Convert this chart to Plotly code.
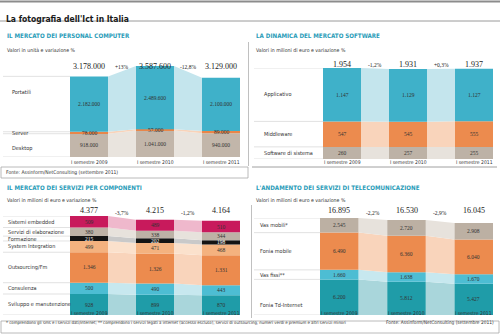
import plotly.graph_objects as go

W, H = 500, 335

years = ["I semestre 2009", "I semestre 2010", "I semestre 2011"]

# --- Personal computer (units) ---
pc_portatili = [2182000, 2489600, 2100000]
pc_server = [78000, 57000, 89000]
pc_desktop = [918000, 1041000, 940000]
pc_totals = [3178000, 3587600, 3129000]
pc_changes = ["+13%", "-12,8%"]

# --- Software (mln euro) ---
sw_applicativo = [1147, 1129, 1127]
sw_middleware = [547, 545, 555]
sw_sistema = [260, 257, 255]
sw_totals = [1954, 1931, 1937]
sw_changes = ["-1,2%", "+0,3%"]

# --- Servizi per componenti (mln euro) ---
sv_embedded = [509, 489, 510]
sv_elaborazione = [380, 338, 344]
sv_formazione = [215, 202, 198]
sv_integration = [499, 471, 468]
sv_outsourcing = [1346, 1326, 1331]
sv_consulenza = [500, 490, 443]
sv_sviluppo = [928, 899, 870]
sv_totals = [4377, 4215, 4164]
sv_changes = ["-3,7%", "-1,2%"]

# --- Telecomunicazioni (mln euro) ---
tl_vas_mobili = [2545, 2720, 2908]
tl_fonia_mobile = [6490, 6360, 6040]
tl_vas_fissi = [1660, 1638, 1670]
tl_fonia_td = [6200, 5812, 5427]
tl_totals = [16895, 16530, 16045]
tl_changes = ["-2,2%", "-2,9%"]

SANS = "Liberation Sans Narrow, DejaVu Sans Condensed, Roboto, sans-serif"
SERIF = "Liberation Serif, DejaVu Serif, serif"
TEAL_T = "#2a9cb8"
TXT = "#333333"

def fmt(v):
    return f"{v:,}".replace(",", ".")

def px(x):
    return x / W

def py(y):
    return 1 - y / H

fig = go.Figure()
annotations = []
shapes = []

BW = 38 / 66  # bar width in category units

panels = [
    dict(ax="", xd=(70, 240), bottom=157, top=66,
         series=[("Desktop", pc_desktop, "#c2b6aa", "#e9e4de", TXT),
                 ("Server", pc_server, "#e8864a", "#f8d3ba", TXT),
                 ("Portatili", pc_portatili, "#3fb1c9", "#c4e5ed", TXT)],
         totals=pc_totals, changes=pc_changes, tot_y=60, chg_y=62, lab_y=162,
         lab_x=10, lab_shift={"Portatili": 12, "Desktop": -3},
         line_x0=3, title="IL MERCATO DEI PERSONAL COMPUTER",
         sub="Valori in unità e variazione %", tx=5, ty=30, sy=45),
    dict(ax="2", xd=(323, 493), bottom=159, top=68,
         series=[("Software di sistema", sw_sistema, "#bdb2a6", "#e7e2dc", TXT),
                 ("Middleware", sw_middleware, "#ec8b4e", "#f9d4bb", TXT),
                 ("Applicativo", sw_applicativo, "#3fb1c9", "#c4e5ed", TXT)],
         totals=sw_totals, changes=sw_changes, tot_y=58, chg_y=60, lab_y=162.5,
         lab_x=262, lab_shift={}, line_x0=254,
         title="LA DINAMICA DEL MERCATO SOFTWARE",
         sub="Valori in milioni di euro e variazione %", tx=254, ty=30, sy=45),
    dict(ax="3", xd=(70, 240), bottom=315, top=216,
         series=[("Sviluppo e manutenzione", sv_sviluppo, "#1f9ca8", "#a9d6db", TXT),
                 ("Consulenza", sv_consulenza, "#4dbdd3", "#c7e8ef", TXT),
                 ("Outsourcing/Fm", sv_outsourcing, "#ec8b4e", "#f9d4bb", TXT),
                 ("System Integration", sv_integration, "#f4b27f", "#fbe1cc", TXT),
                 ("Formazione", sv_formazione, "#141414", "#c9c9c9", "white"),
                 ("Servizi di elaborazione", sv_elaborazione, "#bdb2a6", "#e7e2dc", TXT),
                 ("Sistemi embedded", sv_embedded, "#c81a5c", "#efb8cc", TXT)],
         totals=sv_totals, changes=sv_changes, tot_y=210, chg_y=213, lab_y=317.5,
         lab_x=6, lab_shift={}, line_x0=3,
         title="IL MERCATO DEI SERVIZI PER COMPONENTI",
         sub="Valori in milioni di euro e variazione %", tx=5, ty=187, sy=200),
    dict(ax="4", xd=(320, 493), bottom=315, top=218,
         series=[("Fonia Td-Internet", tl_fonia_td, "#1f9ca8", "#a9d6db", TXT),
                 ("Vas fissi**", tl_vas_fissi, "#4dbdd3", "#c7e8ef", TXT),
                 ("Fonia mobile", tl_fonia_mobile, "#ec8b4e", "#f9d4bb", TXT),
                 ("Vas mobili*", tl_vas_mobili, "#bcb0a3", "#e7e2dc", TXT)],
         totals=tl_totals, changes=tl_changes, tot_y=210, chg_y=213, lab_y=317.5,
         lab_x=258, lab_shift={"Fonia Td-Internet": -8}, line_x0=254,
         title="L'ANDAMENTO DEI SERVIZI DI TELECOMUNICAZIONE",
         sub="Valori in milioni di euro e variazione %", tx=254, ty=187, sy=200),
]

layout_axes = {}
for p in panels:
    ax = p["ax"]
    xa, ya = "x" + ax, "y" + ax
    n = len(p["totals"])
    ymax = max(p["totals"])
    layout_axes["xaxis" + ax] = dict(
        domain=[px(p["xd"][0]), px(p["xd"][1])], range=[-BW / 2, n - 1 + BW / 2],
        anchor=ya, showticklabels=False, showgrid=False,
        zeroline=False, showline=False, ticks="", fixedrange=True)
    layout_axes["yaxis" + ax] = dict(
        domain=[py(p["bottom"]), py(p["top"])], range=[0, ymax], anchor=xa,
        visible=False, fixedrange=True)

    bases = [[0] * n]
    for name, vals, *_ in p["series"]:
        prev = bases[-1]
        bases.append([prev[i] + vals[i] for i in range(n)])

    for k, (name, vals, col, band, tcol) in enumerate(p["series"]):
        lo, hi = bases[k], bases[k + 1]
        for i in range(n - 1):
            xl, xr = i + BW / 2, i + 1 - BW / 2
            fig.add_trace(go.Scatter(
                x=[xl, xl, xr, xr, xl], y=[lo[i], hi[i], hi[i + 1], lo[i + 1], lo[i]],
                fill="toself", fillcolor=band, mode="lines", line=dict(width=0),
                xaxis=xa, yaxis=ya, hoverinfo="skip", showlegend=False))

    for k, (name, vals, col, band, tcol) in enumerate(p["series"]):
        fig.add_trace(go.Bar(
            x=list(range(n)), y=vals, base=bases[k], width=BW, marker_color=col,
            marker_line_width=0, xaxis=xa, yaxis=ya, name=name, showlegend=False))
        for i in range(n):
            annotations.append(dict(
                x=i, y=bases[k][i] + vals[i] / 2, xref=xa, yref=ya, text=fmt(vals[i]),
                showarrow=False, font=dict(family=SERIF, size=5.5, color=tcol)))
        annotations.append(dict(
            x=px(p["lab_x"]), y=bases[k][0] + vals[0] / 2, xref="paper", yref=ya,
            text=name, showarrow=False, xanchor="left",
            yshift=p["lab_shift"].get(name, 0),
            font=dict(family=SANS, size=5.5, color=TXT)))

    for b in bases:
        shapes.append(dict(type="line", xref="paper", yref=ya,
                           x0=px(p["line_x0"]), x1=px(p["xd"][0]), y0=b[0], y1=b[0],
                           line=dict(color="#cfcfcf", width=0.6)))

    for i, t in enumerate(p["totals"]):
        annotations.append(dict(
            x=i, y=py(p["tot_y"]), xref=xa, yref="paper", text=fmt(t),
            showarrow=False, font=dict(family=SERIF, size=8, color="#222")))
    for i, c in enumerate(p["changes"]):
        annotations.append(dict(
            x=i + 0.5, y=py(p["chg_y"]), xref=xa, yref="paper", text=c,
            showarrow=False, font=dict(family=SERIF, size=5.5, color="#222")))
    for i, yl in enumerate(years):
        annotations.append(dict(
            x=i, y=py(p["lab_y"]), xref=xa, yref="paper", text=yl,
            showarrow=False, font=dict(family=SANS, size=5, color=TXT)))

    annotations.append(dict(
        x=px(p["tx"]), y=py(p["ty"]), xref="paper", yref="paper", text="<b>" + p["title"] + "</b>",
        showarrow=False, xanchor="left", font=dict(family=SANS, size=6.2, color=TEAL_T)))
    annotations.append(dict(
        x=px(p["tx"]), y=py(p["sy"]), xref="paper", yref="paper", text=p["sub"],
        showarrow=False, xanchor="left", font=dict(family=SANS, size=5.2, color=TXT)))

annotations.append(dict(
    x=px(4), y=py(12), xref="paper", yref="paper", text="<b>La fotografia dell'Ict in Italia</b>",
    showarrow=False, xanchor="left", font=dict(family=SANS, size=8.5, color="#1a1a1a")))
shapes += [
    dict(type="line", xref="paper", yref="paper", x0=0, x1=1, y0=py(1.5), y1=py(1.5),
         line=dict(color="#8c8c8c", width=2)),
    dict(type="line", xref="paper", yref="paper", x0=0, x1=1, y0=py(21), y1=py(21),
         line=dict(color="#9a9a9a", width=1)),
    dict(type="line", xref="paper", yref="paper", x0=px(248.5), x1=px(248.5), y0=py(42), y1=py(166),
         line=dict(color="#b0b0b0", width=0.8)),
    dict(type="line", xref="paper", yref="paper", x0=px(252), x1=px(497), y0=py(167), y1=py(167),
         line=dict(color="#a0a0a0", width=1)),
    dict(type="line", xref="paper", yref="paper", x0=px(251.5), x1=px(251.5), y0=py(205), y1=py(318),
         line=dict(color="#b0b0b0", width=0.8)),
    dict(type="rect", xref="paper", yref="paper", x0=px(1), x1=px(248), y0=py(178), y1=py(167),
         line=dict(color="#a8a8a8", width=0.8)),
    dict(type="rect", xref="paper", yref="paper", x0=px(1), x1=px(499), y0=py(333), y1=py(321),
         line=dict(color="#a8a8a8", width=0.8)),
]
annotations.append(dict(
    x=px(4), y=py(172.5), xref="paper", yref="paper",
    text="Fonte: Assinform/NetConsulting (settembre 2011)", showarrow=False, xanchor="left",
    font=dict(family=SANS, size=5, color=TXT)))
annotations.append(dict(
    x=px(4), y=py(327), xref="paper", yref="paper",
    text="* comprendono gli sms e i servizi dati/internet; ** comprendono i servizi legati a internet (accesso escluso), servizi di outsourcing, numeri verdi e premium e altri servizi minori",
    showarrow=False, xanchor="left", font=dict(family=SANS, size=4.3, color=TXT)))
annotations.append(dict(
    x=px(496), y=py(327), xref="paper", yref="paper",
    text="Fonte: Assinform/NetConsulting (settembre 2011)", showarrow=False, xanchor="right",
    font=dict(family=SANS, size=4.8, color=TXT)))

fig.update_layout(
    width=W, height=H, margin=dict(l=0, r=0, t=0, b=0),
    paper_bgcolor="white", plot_bgcolor="rgba(0,0,0,0)",
    barmode="overlay", showlegend=False,
    annotations=annotations, shapes=shapes, **layout_axes)

fig.write_html("out.html")
